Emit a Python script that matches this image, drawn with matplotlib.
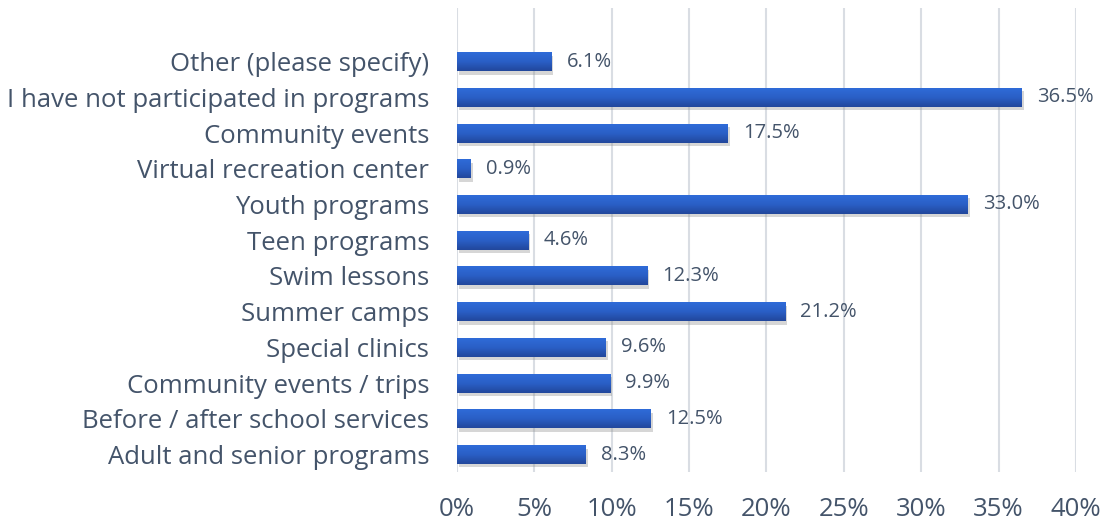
import matplotlib
matplotlib.use("Agg")
import matplotlib.pyplot as plt
import numpy as np
from matplotlib import patheffects as pe
from matplotlib.colors import LinearSegmentedColormap

categories = [
    "Adult and senior programs",
    "Before / after school services",
    "Community events / trips",
    "Special clinics",
    "Summer camps",
    "Swim lessons",
    "Teen programs",
    "Youth programs",
    "Virtual recreation center",
    "Community events",
    "I have not participated in programs",
    "Other (please specify)",
]
values = [8.3, 12.5, 9.9, 9.6, 21.2, 12.3, 4.6, 33.0, 0.9, 17.5, 36.5, 6.1]
xticks = [0, 5, 10, 15, 20, 25, 30, 35, 40]

text_color = "#44546A"
plt.rcParams['font.family'] = ['Open Sans', 'DejaVu Sans']

fig = plt.figure(figsize=(11.07, 5.24), dpi=100)
ax = fig.add_axes([0.4128, 0.0992, 0.972 - 0.4128, 0.9847 - 0.0992])

y = np.arange(len(categories))
bars = ax.barh(y, values, height=0.53, color="#2A5FC8", zorder=3,
               path_effects=[pe.SimplePatchShadow(offset=(1.5, -2.5), shadow_rgbFace="#8a8a8a", alpha=0.35), pe.Normal()])

cmap = LinearSegmentedColormap.from_list("g", ["#2F6BD8", "#2A5FC6", "#22479C"])
grad = np.linspace(0, 1, 50).reshape(-1, 1)
for b in bars:
    x0, y0 = b.get_x(), b.get_y()
    w, h = b.get_width(), b.get_height()
    im = ax.imshow(grad, cmap=cmap, aspect="auto", extent=(x0, x0 + w, y0, y0 + h),
                   origin="upper", zorder=4, interpolation="bicubic")
    im.set_clip_path(b)

for yi, v in zip(y, values):
    ax.annotate(f"{v:.1f}%", (v, yi), xytext=(11, 0), textcoords="offset points",
                va="center", ha="left", fontsize=14.5, color=text_color, zorder=5)

ax.set_xlim(0, 40)
ax.set_ylim(-0.49, 12.5)
ax.set_xticks(xticks)
ax.set_xticklabels([f"{t}%" for t in xticks], fontsize=18.5, color=text_color)
ax.set_yticks(y)
ax.set_yticklabels(categories, fontsize=18.5, color=text_color)
ax.tick_params(axis="x", length=0, pad=18)
ax.tick_params(axis="y", length=0, pad=20)
ax.grid(axis="x", color="#D9DDE3", linewidth=1.5, zorder=0)
for s in ax.spines.values():
    s.set_visible(False)

fig.savefig("out.png", dpi=100)
